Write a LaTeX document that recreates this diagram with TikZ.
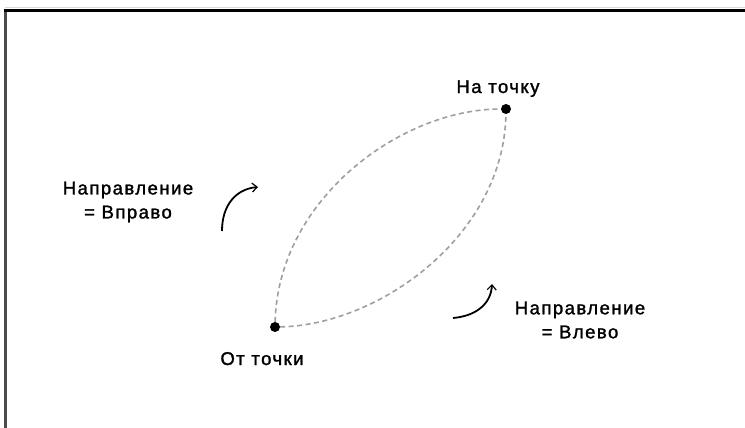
\documentclass[tikz,border=0pt]{standalone}
\usepackage{fontspec}
\setmainfont{Liberation Sans}[LetterSpace=8, FakeBold=1.5]
\usetikzlibrary{arrows.meta}
\begin{document}
\begin{tikzpicture}[x=1pt,y=-1pt,
  lbl/.style={inner sep=0pt, font=\fontsize{18.5}{24}\selectfont, align=center},
  pt/.style={circle, fill=black, inner sep=0pt, minimum size=10pt},
  route/.style={gray!75, line width=1.6pt, dash pattern=on 5pt off 3.5pt},
  turn/.style={black, line width=1.8pt, -{Straight Barb[length=5pt,width=9pt,line width=1.2pt]}}]
\useasboundingbox (0,0) rectangle (745,428);
\fill[white] (0,0) rectangle (745,428);
% frame (only top and left edges visible)
\draw[gray!30, line width=1.5pt] (5,7.5) -- (745,7.5);
\draw[gray!60!black, line width=3pt] (5.5,9) -- (5.5,428);
\draw[black, line width=3pt] (4,10.5) -- (745,10.5);
% points
\node[pt] (A) at (275,327) {};
\node[pt] (B) at (506,109) {};
% routes
\draw[route] (A) .. controls (278,200) and (400,109) .. (B);
\draw[route] (A) .. controls (380,325) and (504,235) .. (B);
% labels
\node[lbl, anchor=base] (to) at (498,93) {На точку};
\node[lbl, anchor=base] (from) at (262,365) {От точки};
\node[lbl] (right) at (128,202) {Направление\\= Вправо};
\node[lbl] (left) at (580,320) {Направление\\= Влево};
% direction arrows
\coordinate (r1) at (222,231);
\coordinate (r2) at (258,187);
\coordinate (l1) at (453,318);
\coordinate (l2) at (492,284);
\draw[turn] (r1) .. controls (222,205) and (236,189) .. (r2);
\draw[turn] (l1) .. controls (476,316) and (491,304) .. (l2);
\end{tikzpicture}
\end{document}
